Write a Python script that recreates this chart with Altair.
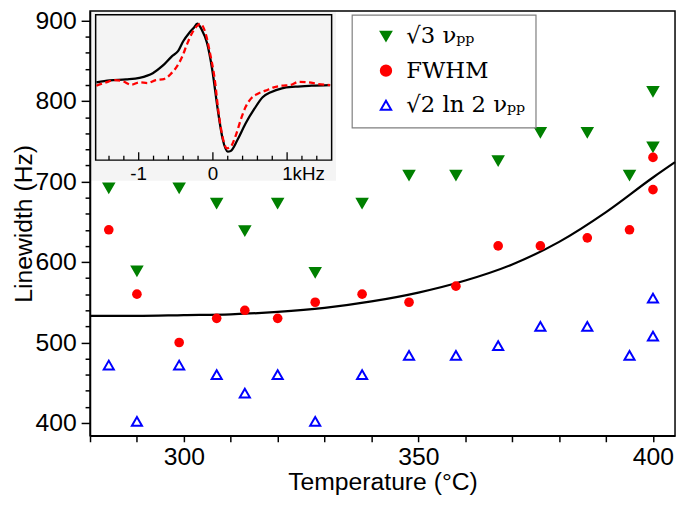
import altair as alt
import pandas as pd

# ---------------- data ----------------
temps = [284, 290, 299, 307, 313, 320, 328, 338, 348, 358, 367, 376, 386, 395, 400, 400]
sqrt3_vpp = [692, 589, 692, 673, 639, 673, 587, 673, 708, 708, 726, 761, 761, 708, 812, 743]
fwhm = [640, 560, 500, 530, 540, 530, 550, 560, 550, 570, 620, 620, 630, 640, 730, 690]
sqrt2ln2_vpp = [472, 402, 472, 460, 437, 460, 402, 460, 484, 484, 496, 520, 520, 484, 555, 508]

series_names = ["√3 νₚₚ", "FWHM", "√2 ln 2 νₚₚ"]
series_fill = ["#008000", "#ff0000", "transparent"]
series_stroke = ["#008000", "#ff0000", "#0000ff"]
series_shape = ["triangle-down", "circle", "triangle-up"]

fit_T = [280, 290, 300, 310, 320, 330, 340, 350, 360, 370, 380, 390, 400, 404.7]
fit_Hz = [533, 533, 534, 535, 538, 543, 551, 562, 577, 597, 625, 662, 705, 724]

inset_black_khz = [-1.57, -1.39, -1.17, -0.99, -0.81, -0.68, -0.55, -0.47, -0.40, -0.32, -0.26,
                   -0.21, -0.15, -0.08, -0.01, 0.07, 0.13, 0.20, 0.24, 0.33, 0.44, 0.56, 0.67,
                   0.78, 0.93, 1.11, 1.33, 1.58]
inset_black_sig = [78.7, 80.7, 81.7, 83.3, 88, 95.3, 105.3, 110.3, 120.3, 128.7, 133.7, 138, 132,
                   118.7, 92, 48.7, 22, 8.7, 9.3, 20.3, 37, 52, 63.7, 68.7, 72.7, 74.3, 75.3, 76]
inset_red_khz = [-1.57, -1.44, -1.32, -1.21, -1.10, -0.99, -0.88, -0.77, -0.66, -0.57, -0.48,
                 -0.41, -0.35, -0.28, -0.21, -0.17, -0.10, -0.04, 0.03, 0.07, 0.13, 0.19, 0.24,
                 0.31, 0.38, 0.44, 0.51, 0.60, 0.71, 0.82, 0.93, 1.04, 1.16, 1.29, 1.42, 1.58]
inset_red_sig = [75.3, 78.7, 81, 79.7, 76.3, 78.7, 78, 81, 82, 87, 95.3, 105.3, 117, 128.7, 136,
                 138, 128.7, 108.7, 78.7, 52, 23.7, 12, 13.7, 25.3, 42, 53.7, 62, 67, 70.3, 73.7,
                 75.3, 76, 79.3, 78.7, 77, 76]

inset_minor_ticks = [-1.4, -1.2, -0.8, -0.6, -0.4, -0.2, 0.2, 0.4, 0.6, 0.8, 1.2, 1.4]
inset_major_ticks = [-1, 0, 1]
inset_center_labels = ["-1", "0"]
inset_center_label_pos = [-1, 0]
inset_unit_label = ["1kHz"]
inset_unit_label_pos = [1]

x_ticks = list(range(280, 401, 10))
y_ticks = list(range(400, 901, 20))

# ---------------- tables ----------------
rows = []
for name, vals in zip(series_names, [sqrt3_vpp, fwhm, sqrt2ln2_vpp]):
    for t, v in zip(temps, vals):
        rows.append({"T": t, "Hz": v, "series": name})
pts_df = pd.DataFrame(rows)
tri_df = pts_df[pts_df["series"] != series_names[1]]
dot_df = pts_df[pts_df["series"] == series_names[1]]
fit_df = pd.DataFrame({"T": fit_T, "Hz": fit_Hz})
blk_df = pd.DataFrame({"kHz": inset_black_khz, "sig": inset_black_sig})
red_df = pd.DataFrame({"kHz": inset_red_khz, "sig": inset_red_sig})
minor_df = pd.DataFrame({"kHz": inset_minor_ticks})
major_df = pd.DataFrame({"kHz": inset_major_ticks})
lab_df = pd.DataFrame({"kHz": inset_center_label_pos, "lab": inset_center_labels})
unit_df = pd.DataFrame({"kHz": inset_unit_label_pos, "lab": inset_unit_label})
one = pd.DataFrame({"a": [0]})

# ---------------- main plot ----------------
xs = alt.Scale(domain=[280, 404.7], nice=False, zero=False)
ys = alt.Scale(domain=[384, 912], nice=False, zero=False)

x_axis = alt.Axis(values=x_ticks, labelExpr="datum.value % 50 === 0 ? datum.label : ''",
                  title="Temperature (°C)", tickSize=6, labelPadding=3, titleY=34,
                  grid=False, zindex=1)
y_axis = alt.Axis(values=y_ticks, labelExpr="datum.value % 100 === 0 ? datum.label : ''",
                  title="Linewidth (Hz)", labelPadding=5, titleX=-54, grid=False, zindex=1,
                  tickSize={"condition": {"test": "datum.value % 100 === 0", "value": 9}, "value": 5})

leg = alt.Legend(title=None, orient="none", legendX=265, legendY=4)

fill_enc = alt.Fill("series:N", scale=alt.Scale(domain=series_names, range=series_fill), legend=leg)
stroke_enc = alt.Stroke("series:N", scale=alt.Scale(domain=series_names, range=series_stroke), legend=leg)
shape_enc = alt.Shape("series:N", scale=alt.Scale(domain=series_names, range=series_shape), legend=leg)

fit = alt.Chart(fit_df).mark_line(color="black", strokeWidth=2.2, interpolate="monotone").encode(
    x=alt.X("T:Q", scale=xs, axis=x_axis),
    y=alt.Y("Hz:Q", scale=ys, axis=y_axis),
)

tri = alt.Chart(tri_df).mark_point(opacity=1, size=105, strokeWidth=2).encode(
    x=alt.X("T:Q", scale=xs, axis=x_axis),
    y=alt.Y("Hz:Q", scale=ys, axis=y_axis),
    fill=fill_enc, stroke=stroke_enc, shape=shape_enc,
)
dot = alt.Chart(dot_df).mark_point(opacity=1, size=95, strokeWidth=0).encode(
    x=alt.X("T:Q", scale=xs, axis=x_axis),
    y=alt.Y("Hz:Q", scale=ys, axis=y_axis),
    fill=fill_enc, stroke=stroke_enc, shape=shape_enc,
)

main = alt.layer(fit, tri, dot)

# ---------------- inset ----------------
ixs = alt.Scale(domain=[-1.58, 1.6], range=[5.7, 244.5], nice=False, zero=False)
iys = alt.Scale(domain=[0, 147], range=[151, 4], nice=False, zero=False)

bg = alt.Chart(one).mark_rect(fill="#f4f4f4").encode(
    x=alt.value(1), x2=alt.value(249), y=alt.value(1), y2=alt.value(172))
frame = alt.Chart(one).mark_rect(fill="#f4f4f4", stroke="black", strokeWidth=1.5).encode(
    x=alt.value(5.7), x2=alt.value(244.5), y=alt.value(4), y2=alt.value(151))

blk = alt.Chart(blk_df).mark_line(color="black", strokeWidth=2.3, interpolate="monotone").encode(
    x=alt.X("kHz:Q", scale=ixs, axis=None), y=alt.Y("sig:Q", scale=iys, axis=None))
red = alt.Chart(red_df).mark_line(color="#ff0000", strokeWidth=2.3, strokeDash=[6, 3.5],
                                   interpolate="monotone").encode(
    x=alt.X("kHz:Q", scale=ixs, axis=None), y=alt.Y("sig:Q", scale=iys, axis=None))

minor = alt.Chart(minor_df).mark_rule(color="black", strokeWidth=1.3).encode(
    x=alt.X("kHz:Q", scale=ixs, axis=None), y=alt.value(151), y2=alt.value(146.5))
major = alt.Chart(major_df).mark_rule(color="black", strokeWidth=1.3).encode(
    x=alt.X("kHz:Q", scale=ixs, axis=None), y=alt.value(151), y2=alt.value(143))

labs = alt.Chart(lab_df).mark_text(font="Liberation Sans", fontSize=19, baseline="top",
                                    align="center", color="black").encode(
    x=alt.X("kHz:Q", scale=ixs, axis=None), y=alt.value(156), text="lab:N")
unit = alt.Chart(unit_df).mark_text(font="Liberation Sans", fontSize=19, baseline="top",
                                     align="left", dx=-5, color="black").encode(
    x=alt.X("kHz:Q", scale=ixs, axis=None), y=alt.value(156), text="lab:N")

inset = alt.layer(bg, frame, blk, red, minor, major, labs, unit)

chart = alt.layer(main, inset).resolve_scale(x="independent", y="independent").properties(
    width=592, height=430,
    padding={"left": 83, "top": 0, "right": 2, "bottom": 62},
    autosize=alt.AutoSizeParams(type="none"),
).configure_view(stroke="black", strokeWidth=1.5).configure_axis(
    labelFont="Liberation Sans", labelFontSize=25, labelColor="black",
    titleFont="Liberation Sans", titleFontSize=25, titleFontWeight="normal", titleColor="black",
    domainColor="black", domainWidth=1.5, tickColor="black", tickWidth=1.5,
).configure_legend(
    strokeColor="#7f7f7f", strokeWidth=1.2, fillColor="white", padding=10,
    symbolOffset=13, labelOffset=9, rowPadding=11, symbolSize=110, symbolStrokeWidth=2,
    labelFont="DejaVu Serif", labelFontSize=23, labelColor="black", cornerRadius=0,
)

chart.save("out.html", embed_options={"renderer": "svg", "actions": False})
